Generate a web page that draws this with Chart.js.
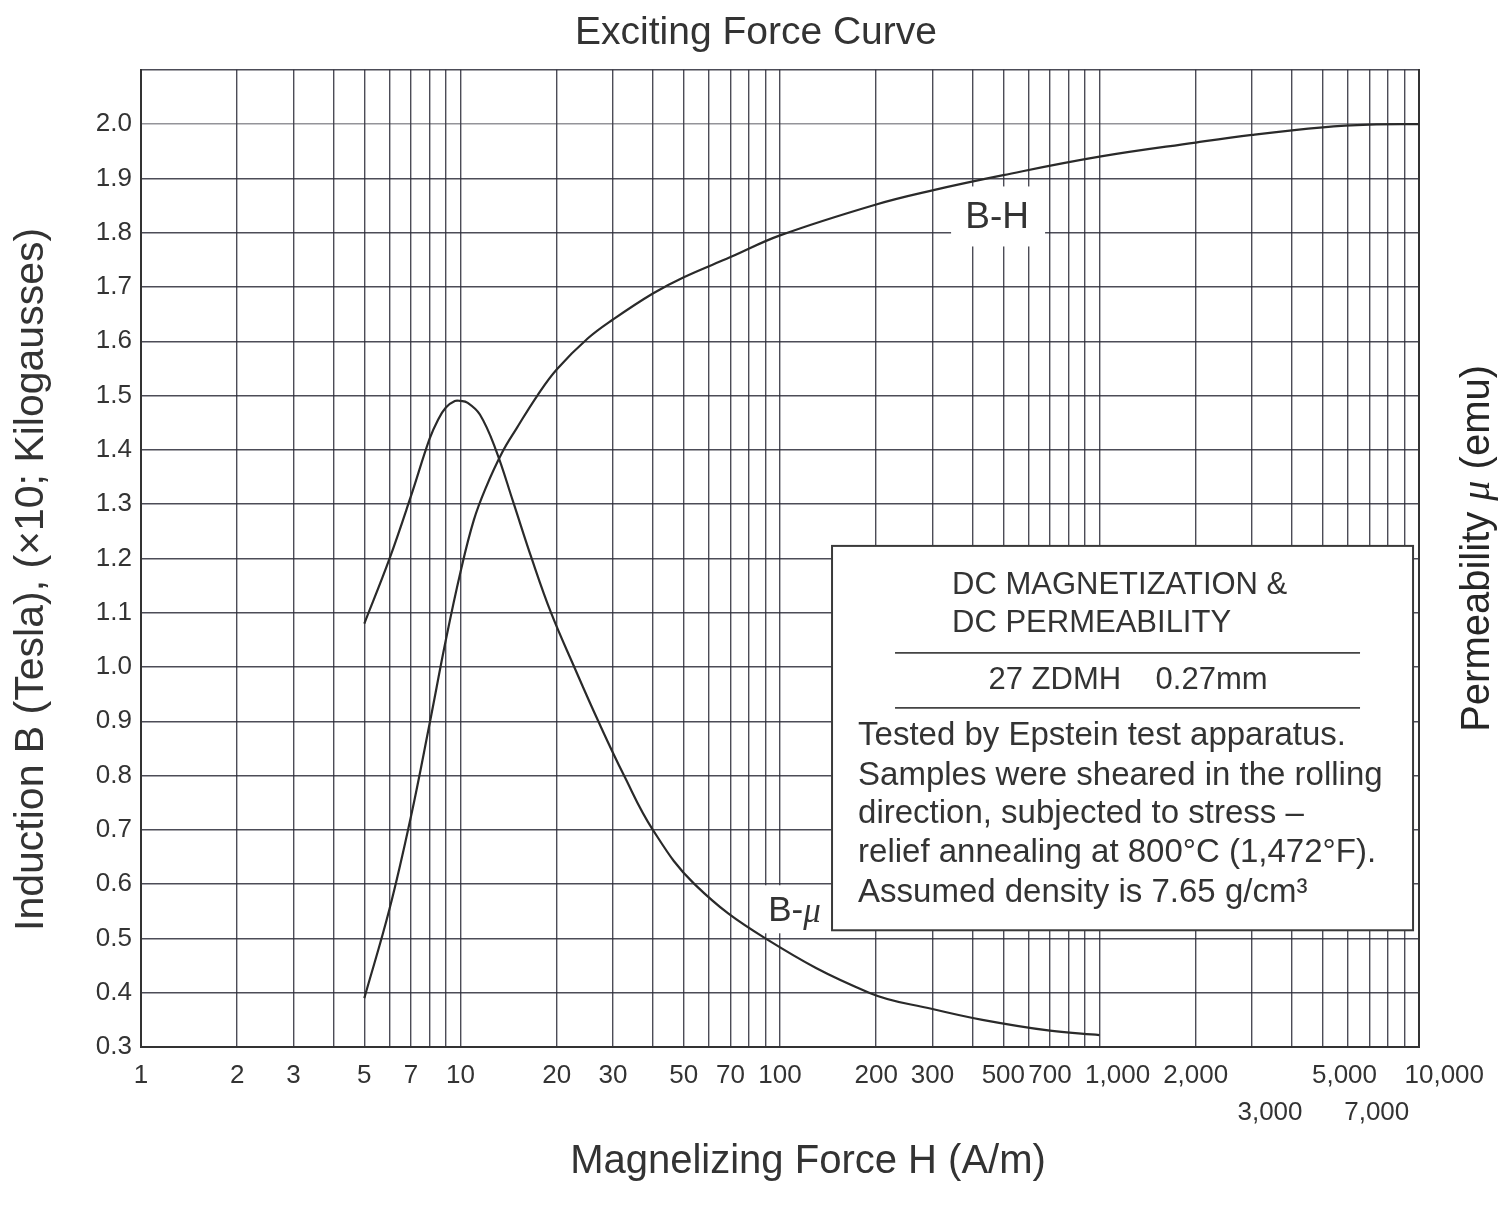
<!DOCTYPE html>
<html>
<head>
<meta charset="utf-8">
<script src="https://cdn.jsdelivr.net/npm/chart.js@4.4.1/dist/chart.umd.min.js"></script>
<style>
  html, body { margin: 0; padding: 0; background: #ffffff; }
  #wrap { width: 1512px; height: 1215px; position: relative; }
</style>
</head>
<body>
<div id="wrap"><canvas id="c"></canvas></div>
<script>
// ---------- data ----------
const bhH = [5, 6, 7, 8, 9, 10, 11, 12, 13.5, 15, 17.4, 20, 25, 30, 40, 50, 70, 100, 200, 300, 500, 1000, 2000, 3000, 5000, 7000, 10000];
const bhB = [0.39, 0.555, 0.725, 0.895, 1.05, 1.175, 1.27, 1.33, 1.395, 1.44, 1.50, 1.548, 1.605, 1.640, 1.688, 1.718, 1.755, 1.795, 1.852, 1.878, 1.906, 1.94, 1.966, 1.98, 1.994, 1.999, 2.0];

const bmuH = [5, 6, 7, 8, 8.5, 9, 9.6, 10, 10.5, 11.5, 12.9, 14.6, 16.7, 19.2, 22.7, 27, 32.5, 40, 54, 90, 190, 300, 430, 700, 1000];
const bmuV = [1.08, 1.20, 1.315, 1.42, 1.455, 1.478, 1.49, 1.49, 1.487, 1.465, 1.40, 1.305, 1.20, 1.10, 1.00, 0.90, 0.80, 0.70, 0.60, 0.50, 0.40, 0.37, 0.35, 0.33, 0.322];

const xTickValues = [1,2,3,4,5,6,7,8,9,10,20,30,40,50,60,70,80,90,100,200,300,400,500,600,700,800,900,1000,2000,3000,4000,5000,6000,7000,8000,9000,10000];
const xTickLabels = ['1','2','3','','5','','7','','','10','20','30','','50','','70','','','100','200','300','','500','','700','','','     1,000','2,000',['','     3,000'],'','      5,000','',['','  7,000'],'','','       10,000'];

const yTickValues = [0.3,0.4,0.5,0.6,0.7,0.8,0.9,1.0,1.1,1.2,1.3,1.4,1.5,1.6,1.7,1.8,1.9,2.0,2.1];
const yTickLabels = ['0.3','0.4','0.5','0.6','0.7','0.8','0.9','1.0','1.1','1.2','1.3','1.4','1.5','1.6','1.7','1.8','1.9','2.0',''];

const chartTitle = 'Exciting Force Curve';
const xTitle = 'Magnelizing Force H (A/m)';
const yTitle = 'Induction B (Tesla), (\u00d710; Kilogausses)';
const y2TitleParts = ['Permeability ', '\u03bc', ' (emu)'];
const noteHeader = ['DC MAGNETIZATION &', 'DC PERMEABILITY'];
const noteGrade = '27 ZDMH    0.27mm';
const noteBody = [
  'Tested by Epstein test apparatus.',
  'Samples were sheared in the rolling',
  'direction, subjected to stress \u2013',
  'relief annealing at 800\u00b0C (1,472\u00b0F).',
  'Assumed density is 7.65 g/cm\u00b3'
];

// ---------- styles ----------
const FONT = '"Liberation Sans", Arial, Helvetica, sans-serif';
const SERIF = '"Liberation Serif", "DejaVu Serif", serif';
const TEXT = '#333333';
const GRID = 'rgba(45,45,58,0.85)';
const LINE = '#2a2a2a';

const notesPlugin = {
  id: 'notes',
  beforeDatasetsDraw(chart) {
    const { ctx, scales: { x, y } } = chart;
    ctx.save();
    // B-H label with white backing
    const bhx = x.getPixelForValue(478), bhy = y.getPixelForValue(1.828);
    ctx.fillStyle = '#ffffff';
    ctx.fillRect(bhx - 46, bhy - 31, 94, 60);
    ctx.fillStyle = TEXT;
    ctx.font = '37px ' + FONT;
    ctx.textAlign = 'center';
    ctx.textBaseline = 'middle';
    ctx.fillText('B-H', bhx, bhy);

    // B-mu label
    const bmx = x.getPixelForValue(111), bmy = y.getPixelForValue(0.55);
    ctx.fillStyle = '#ffffff';
    ctx.fillRect(bmx - 36, bmy - 26, 72, 48);
    ctx.fillStyle = TEXT;
    ctx.textAlign = 'left';
    ctx.font = '35px ' + FONT;
    const wB = ctx.measureText('B-').width;
    ctx.font = 'italic 35px ' + SERIF;
    const wMu = ctx.measureText('\u03bc').width;
    const sx = bmx - (wB + wMu) / 2;
    ctx.font = '35px ' + FONT;
    ctx.fillText('B-', sx, bmy);
    ctx.font = 'italic 35px ' + SERIF;
    ctx.fillText('\u03bc', sx + wB, bmy + 2);

    // note box
    const L = x.getPixelForValue(145.5), R = x.getPixelForValue(9580);
    const T = y.getPixelForValue(1.223), B = y.getPixelForValue(0.515);
    ctx.fillStyle = '#ffffff';
    ctx.fillRect(L, T, R - L, B - T);
    ctx.strokeStyle = '#3a3a3a';
    ctx.lineWidth = 2;
    ctx.strokeRect(L, T, R - L, B - T);

    ctx.fillStyle = TEXT;
    ctx.textBaseline = 'middle';
    ctx.textAlign = 'left';
    ctx.font = '31px ' + FONT;
    ctx.fillText(noteHeader[0], L + 120, T + 40);
    ctx.fillText(noteHeader[1], L + 120, T + 78);
    ctx.strokeStyle = '#444';
    ctx.lineWidth = 1.6;
    ctx.beginPath();
    ctx.moveTo(L + 63, T + 107); ctx.lineTo(L + 528, T + 107);
    ctx.moveTo(L + 63, T + 162); ctx.lineTo(L + 528, T + 162);
    ctx.stroke();
    ctx.textAlign = 'center';
    ctx.fillText(noteGrade, L + 296, T + 135);
    ctx.textAlign = 'left';
    ctx.font = '33px ' + FONT;
    const offs = [190, 230, 268, 307, 347];
    noteBody.forEach((s, i) => ctx.fillText(s, L + 26, T + offs[i]));
    ctx.restore();
  },
  afterDraw(chart) {
    const { ctx, chartArea } = chart;
    ctx.save();
    ctx.fillStyle = TEXT;
    ctx.textBaseline = 'middle';
    ctx.textAlign = 'center';
    // x axis title
    ctx.font = '40px ' + FONT;
    ctx.fillText(xTitle, (chartArea.left + chartArea.right) / 2 + 28, chartArea.bottom + 115);
    // y axis title
    ctx.save();
    ctx.translate(chartArea.left - 109, (chartArea.top + chartArea.bottom) / 2 + 21);
    ctx.rotate(-Math.PI / 2);
    ctx.font = '41px ' + FONT;
    ctx.fillText(yTitle, 0, 0);
    ctx.restore();
    // right title
    ctx.translate(chartArea.right + 59, (chartArea.top + chartArea.bottom) / 2 - 10);
    ctx.rotate(-Math.PI / 2);
    ctx.fillStyle = '#262626';
    ctx.textAlign = 'left';
    const fonts = ['40px ' + FONT, 'italic 40px ' + SERIF, '40px ' + FONT];
    const widths = y2TitleParts.map((t, i) => { ctx.font = fonts[i]; return ctx.measureText(t).width; });
    let px = -widths.reduce((a, b) => a + b, 0) / 2;
    y2TitleParts.forEach((t, i) => { ctx.font = fonts[i]; ctx.fillText(t, px, 0); px += widths[i]; });
    ctx.restore();
  }
};

new Chart(document.getElementById('c'), {
  type: 'line',
  data: {
    datasets: [
      {
        label: 'B-H',
        data: bhH.map((h, i) => ({ x: h, y: bhB[i] })),
        borderColor: LINE, borderWidth: 2.2, pointRadius: 0,
        tension: 0.4, fill: false, yAxisID: 'y'
      },
      {
        label: 'B-\u03bc',
        data: bmuH.map((h, i) => ({ x: h, y: bmuV[i] })),
        borderColor: LINE, borderWidth: 2.2, pointRadius: 0,
        tension: 0.4, fill: false, yAxisID: 'y'
      }
    ]
  },
  options: {
    responsive: true,
    maintainAspectRatio: false,
    devicePixelRatio: 1,
    animation: false,
    layout: { padding: 0 },
    plugins: {
      legend: { display: false },
      tooltip: { enabled: false },
      title: {
        display: true, text: chartTitle, color: TEXT,
        font: { family: FONT, size: 39, weight: 'normal' },
        padding: { top: 10, bottom: 13 }
      }
    },
    scales: {
      x: {
        type: 'logarithmic', min: 1, max: 10000,
        afterBuildTicks: s => { s.ticks = xTickValues.map(v => ({ value: v })); },
        afterFit: s => { s.height = 168; },
        grid: { color: GRID, lineWidth: 1.4, drawTicks: false },
        border: { color: '#333', width: 2 },
        ticks: {
          autoSkip: false, maxRotation: 0, minRotation: 0,
          callback: (v, i) => xTickLabels[i],
          font: { family: FONT, size: 26, lineHeight: 1.4 }, color: TEXT, padding: 11
        },
        title: { display: false, text: xTitle }
      },
      y: {
        type: 'linear', position: 'left', min: 0.3, max: 2.1,
        afterBuildTicks: s => { s.ticks = yTickValues.map(v => ({ value: v })); },
        afterFit: s => { s.width = 141; },
        grid: {
          color: c => (c.tick && Math.abs(c.tick.value - 2.0) < 1e-6) ? 'rgba(60,60,70,0.55)' : GRID,
          lineWidth: 1.4, drawTicks: false
        },
        border: { color: '#333', width: 2 },
        ticks: {
          callback: (v, i) => yTickLabels[i],
          font: { family: FONT, size: 26 }, color: TEXT, padding: 9
        },
        title: { display: false, text: yTitle }
      },
      y2: {
        type: 'linear', position: 'right', min: 0.3, max: 2.1,
        afterFit: s => { s.width = 93; },
        grid: { display: false, drawTicks: false },
        border: { display: true, color: '#333', width: 2 },
        ticks: { display: false }
      }
    }
  },
  plugins: [notesPlugin]
});
</script>
</body>
</html>
